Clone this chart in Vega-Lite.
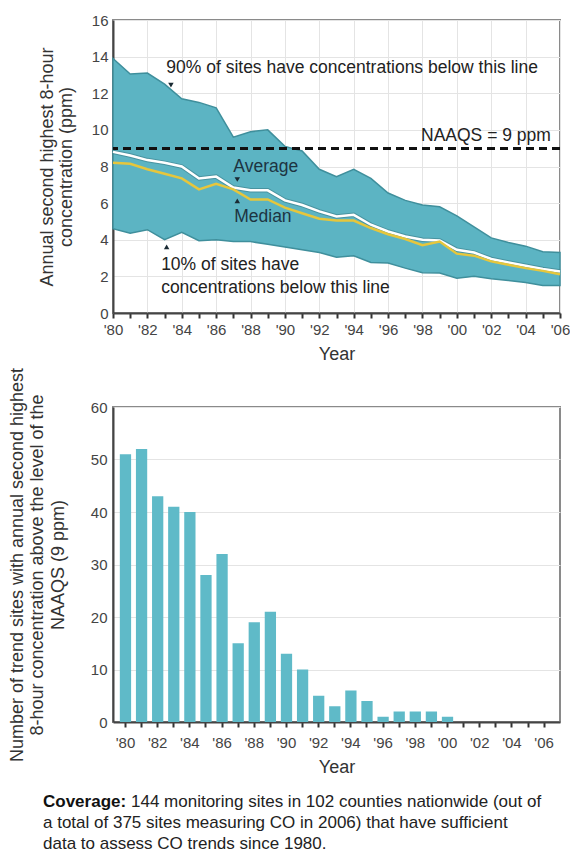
{
  "$schema": "https://vega.github.io/schema/vega-lite/v6.json",
  "padding": {"left": 7, "top": 12, "right": 0, "bottom": 5},
  "background": "white",
  "config": {
    "font": "Liberation Sans",
    "view": {"stroke": "#8a8a8a", "strokeWidth": 2},
    "axis": {
      "labelFont": "Liberation Sans", "labelFontSize": 15, "labelColor": "#444",
      "titleFont": "Liberation Sans", "titleFontSize": 18, "titleFontWeight": "normal", "titleColor": "#333",
      "domainColor": "#444", "domainWidth": 2, "tickColor": "#333", "tickWidth": 2,
      "gridColor": "#e4e4e4", "gridWidth": 1
    },
    "axisY": {"labelOverlap": false},
    "text": {"font": "Liberation Sans"}
  },
  "datasets": {
    "co": [
      {"year": 1980, "p90": 13.9, "p10": 4.6, "avg": 8.8, "med": 8.2},
      {"year": 1981, "p90": 13.05, "p10": 4.35, "avg": 8.6, "med": 8.15},
      {"year": 1982, "p90": 13.1, "p10": 4.55, "avg": 8.35, "med": 7.85},
      {"year": 1983, "p90": 12.5, "p10": 4.0, "avg": 8.2, "med": 7.6},
      {"year": 1984, "p90": 11.7, "p10": 4.4, "avg": 8.0, "med": 7.35},
      {"year": 1985, "p90": 11.5, "p10": 3.95, "avg": 7.35, "med": 6.75},
      {"year": 1986, "p90": 11.2, "p10": 4.0, "avg": 7.45, "med": 7.05},
      {"year": 1987, "p90": 9.6, "p10": 3.9, "avg": 6.85, "med": 6.75},
      {"year": 1988, "p90": 9.9, "p10": 3.9, "avg": 6.7, "med": 6.2},
      {"year": 1989, "p90": 10.0, "p10": 3.75, "avg": 6.7, "med": 6.2},
      {"year": 1990, "p90": 9.1, "p10": 3.6, "avg": 6.15, "med": 5.75},
      {"year": 1991, "p90": 8.85, "p10": 3.45, "avg": 5.9, "med": 5.45},
      {"year": 1992, "p90": 7.85, "p10": 3.3, "avg": 5.55, "med": 5.15},
      {"year": 1993, "p90": 7.45, "p10": 3.05, "avg": 5.27, "med": 5.05},
      {"year": 1994, "p90": 7.85, "p10": 3.13, "avg": 5.36, "med": 5.05},
      {"year": 1995, "p90": 7.35, "p10": 2.76, "avg": 4.82, "med": 4.64},
      {"year": 1996, "p90": 6.55, "p10": 2.73, "avg": 4.45, "med": 4.3},
      {"year": 1997, "p90": 6.15, "p10": 2.45, "avg": 4.18, "med": 4.04},
      {"year": 1998, "p90": 5.9, "p10": 2.2, "avg": 4.0, "med": 3.7},
      {"year": 1999, "p90": 5.8, "p10": 2.18, "avg": 3.96, "med": 3.9},
      {"year": 2000, "p90": 5.3, "p10": 1.9, "avg": 3.45, "med": 3.24},
      {"year": 2001, "p90": 4.7, "p10": 2.0, "avg": 3.3, "med": 3.13},
      {"year": 2002, "p90": 4.1, "p10": 1.87, "avg": 2.95, "med": 2.82},
      {"year": 2003, "p90": 3.85, "p10": 1.78, "avg": 2.76, "med": 2.64},
      {"year": 2004, "p90": 3.65, "p10": 1.67, "avg": 2.58, "med": 2.45},
      {"year": 2005, "p90": 3.35, "p10": 1.5, "avg": 2.4, "med": 2.3},
      {"year": 2006, "p90": 3.3, "p10": 1.5, "avg": 2.27, "med": 2.12}
    ],
    "notes": [
      {"year": 1983.1, "ppm": 13.36, "label": "90% of sites have concentrations below this line"},
      {"year": 1982.8, "ppm": 2.62, "label": "10% of sites have"},
      {"year": 1982.8, "ppm": 1.36, "label": "concentrations below this line"}
    ],
    "keys": [
      {"year": 1987.0, "ppm": 7.95, "label": "Average"},
      {"year": 1987.05, "ppm": 5.25, "label": "Median"}
    ],
    "naaqs": [
      {"year": 2005.47, "ppm": 9.65, "label": "NAAQS = 9 ppm"}
    ],
    "arrows": [
      {"year": 1983.37, "ppm": 12.44, "dir": "down"},
      {"year": 1987.23, "ppm": 7.29, "dir": "down"},
      {"year": 1987.23, "ppm": 6.12, "dir": "up"},
      {"year": 1983.12, "ppm": 3.61, "dir": "up"}
    ],
    "sites": [
      {"year": 1980, "count": 51}, {"year": 1981, "count": 52}, {"year": 1982, "count": 43},
      {"year": 1983, "count": 41}, {"year": 1984, "count": 40}, {"year": 1985, "count": 28},
      {"year": 1986, "count": 32}, {"year": 1987, "count": 15}, {"year": 1988, "count": 19},
      {"year": 1989, "count": 21}, {"year": 1990, "count": 13}, {"year": 1991, "count": 10},
      {"year": 1992, "count": 5}, {"year": 1993, "count": 3}, {"year": 1994, "count": 6},
      {"year": 1995, "count": 4}, {"year": 1996, "count": 1}, {"year": 1997, "count": 2},
      {"year": 1998, "count": 2}, {"year": 1999, "count": 2}, {"year": 2000, "count": 1},
      {"year": 2001, "count": 0}, {"year": 2002, "count": 0}, {"year": 2003, "count": 0},
      {"year": 2004, "count": 0}, {"year": 2005, "count": 0}, {"year": 2006, "count": 0}
    ],
    "caption": [
      {"line": 1, "part": "lead", "text": "Coverage:"},
      {"line": 1, "part": "first", "text": "144 monitoring sites in 102 counties nationwide (out of"},
      {"line": 2, "part": "body", "text": "a total of 375 sites measuring CO in 2006) that have sufficient"},
      {"line": 3, "part": "body", "text": "data to assess CO trends since 1980."}
    ]
  },
  "spacing": 771,
  "bounds": "flush",
  "vconcat": [
    {
      "spacing": 94,
      "bounds": "flush",
      "vconcat": [
        {
          "width": 447,
          "height": 293,
          "resolve": {"axis": {"y": "independent"}},
          "encoding": {
            "x": {
              "field": "year", "type": "quantitative", "title": "Year",
              "scale": {"domain": [1980, 2006], "nice": false, "zero": false},
              "axis": {
                "values": [1980,1981,1982,1983,1984,1985,1986,1987,1988,1989,1990,1991,1992,1993,1994,1995,1996,1997,1998,1999,2000,2001,2002,2003,2004,2005,2006],
                "labelExpr": "datum.value % 2 === 0 ? \"'\" + slice(toString(datum.value), 2) : ''",
                "labelFlush": false, "labelOverlap": false,
                "tickSize": 5, "labelPadding": 4, "titlePadding": 8,
                "gridOpacity": {"condition": {"test": "datum.value % 2 === 0", "value": 1}, "value": 0}
              }
            }
          },
          "layer": [
            {
              "data": {"name": "co"},
              "mark": {"type": "area", "color": "#5cb4c3", "stroke": "#3f8f9c", "strokeWidth": 1.5, "opacity": 1},
              "encoding": {
                "y": {
                  "field": "p90", "type": "quantitative",
                  "title": ["Annual second highest 8-hour", "concentration (ppm)"],
                  "scale": {"domain": [0, 16], "nice": false},
                  "axis": {"values": [0,2,4,6,8,10,12,14,16], "ticks": false, "labelOverlap": false, "labelPadding": 5, "titlePadding": 16, "titleLineHeight": 19}
                },
                "y2": {"field": "p10"}
              }
            },
            {
              "data": {"name": "co"},
              "mark": {"type": "rule", "color": "#111", "strokeWidth": 2.5, "strokeDash": [8, 5]},
              "encoding": {"x": null, "y": {"datum": 9, "type": "quantitative", "axis": null}}
            },
            {
              "data": {"name": "co"},
              "mark": {"type": "line", "color": "#3b7d88", "strokeWidth": 4.5, "opacity": 0.6},
              "encoding": {"y": {"field": "avg", "type": "quantitative", "axis": null}}
            },
            {
              "data": {"name": "co"},
              "mark": {"type": "line", "color": "#ffffff", "strokeWidth": 2.5},
              "encoding": {"y": {"field": "avg", "type": "quantitative", "axis": null}}
            },
            {
              "data": {"name": "co"},
              "mark": {"type": "line", "color": "#e6c63c", "strokeWidth": 2.5},
              "encoding": {"y": {"field": "med", "type": "quantitative", "axis": null}}
            },
            {
              "data": {"name": "notes"},
              "mark": {"type": "text", "align": "left", "baseline": "middle", "fontSize": 17.5, "color": "#222"},
              "encoding": {
                "y": {"field": "ppm", "type": "quantitative", "axis": null},
                "text": {"field": "label"}
              }
            },
            {
              "data": {"name": "keys"},
              "mark": {"type": "text", "align": "left", "baseline": "middle", "fontSize": 17.5, "color": "#1c3442"},
              "encoding": {
                "y": {"field": "ppm", "type": "quantitative", "axis": null},
                "text": {"field": "label"}
              }
            },
            {
              "data": {"name": "naaqs"},
              "mark": {"type": "text", "align": "right", "baseline": "middle", "fontSize": 17.5, "color": "#222"},
              "encoding": {
                "y": {"field": "ppm", "type": "quantitative", "axis": null},
                "text": {"field": "label"}
              }
            },
            {
              "data": {"name": "arrows"},
              "mark": {"type": "point", "filled": true, "size": 30, "color": "#1a2a33", "opacity": 1},
              "encoding": {
                "y": {"field": "ppm", "type": "quantitative", "axis": null},
                "shape": {"field": "dir", "type": "nominal", "scale": {"domain": ["down", "up"], "range": ["triangle-down", "triangle-up"]}, "legend": null}
              }
            }
          ]
        },
        {
          "width": 447,
          "height": 315,
          "data": {"name": "sites"},
          "mark": {"type": "bar", "color": "#5fbac8"},
          "encoding": {
            "x": {
              "field": "year", "type": "ordinal", "title": "Year",
              "scale": {"paddingInner": 0.3, "paddingOuter": 0.53, "align": 0.4},
              "axis": {
                "labelAngle": 0,
                "labelExpr": "datum.value % 2 === 0 ? \"'\" + slice(toString(datum.value), 2) : ''",
                "tickSize": 5, "labelPadding": 8, "titlePadding": 8, "grid": false
              }
            },
            "y": {
              "field": "count", "type": "quantitative",
              "title": ["Number of trend sites with annual second highest", "8-hour concentration above the level of the", "NAAQS (9 ppm)"],
              "scale": {"domain": [0, 60], "nice": false},
              "axis": {"values": [0,10,20,30,40,50,60], "ticks": false, "labelOverlap": false, "labelPadding": 6, "titlePadding": 23, "titleLineHeight": 20.5, "grid": true}
            }
          }
        }
      ]
    },
    {
      "width": 447,
      "height": 63,
      "data": {"name": "caption"},
      "view": {"stroke": null},
      "encoding": {
        "x": {"datum": 0, "type": "quantitative", "scale": {"domain": [0, 1]}, "axis": null},
        "y": {"field": "line", "type": "ordinal", "axis": null, "scale": {"padding": 0.5}},
        "text": {"field": "text"}
      },
      "layer": [
        {
          "transform": [{"filter": "datum.part === 'lead'"}],
          "mark": {"type": "text", "align": "left", "baseline": "middle", "fontSize": 17, "fontWeight": "bold", "color": "#111", "dx": -70}
        },
        {
          "transform": [{"filter": "datum.part === 'first'"}],
          "mark": {"type": "text", "align": "left", "baseline": "middle", "fontSize": 17, "color": "#222", "dx": 18}
        },
        {
          "transform": [{"filter": "datum.part === 'body'"}],
          "mark": {"type": "text", "align": "left", "baseline": "middle", "fontSize": 17, "color": "#222", "dx": -70}
        }
      ]
    }
  ]
}
